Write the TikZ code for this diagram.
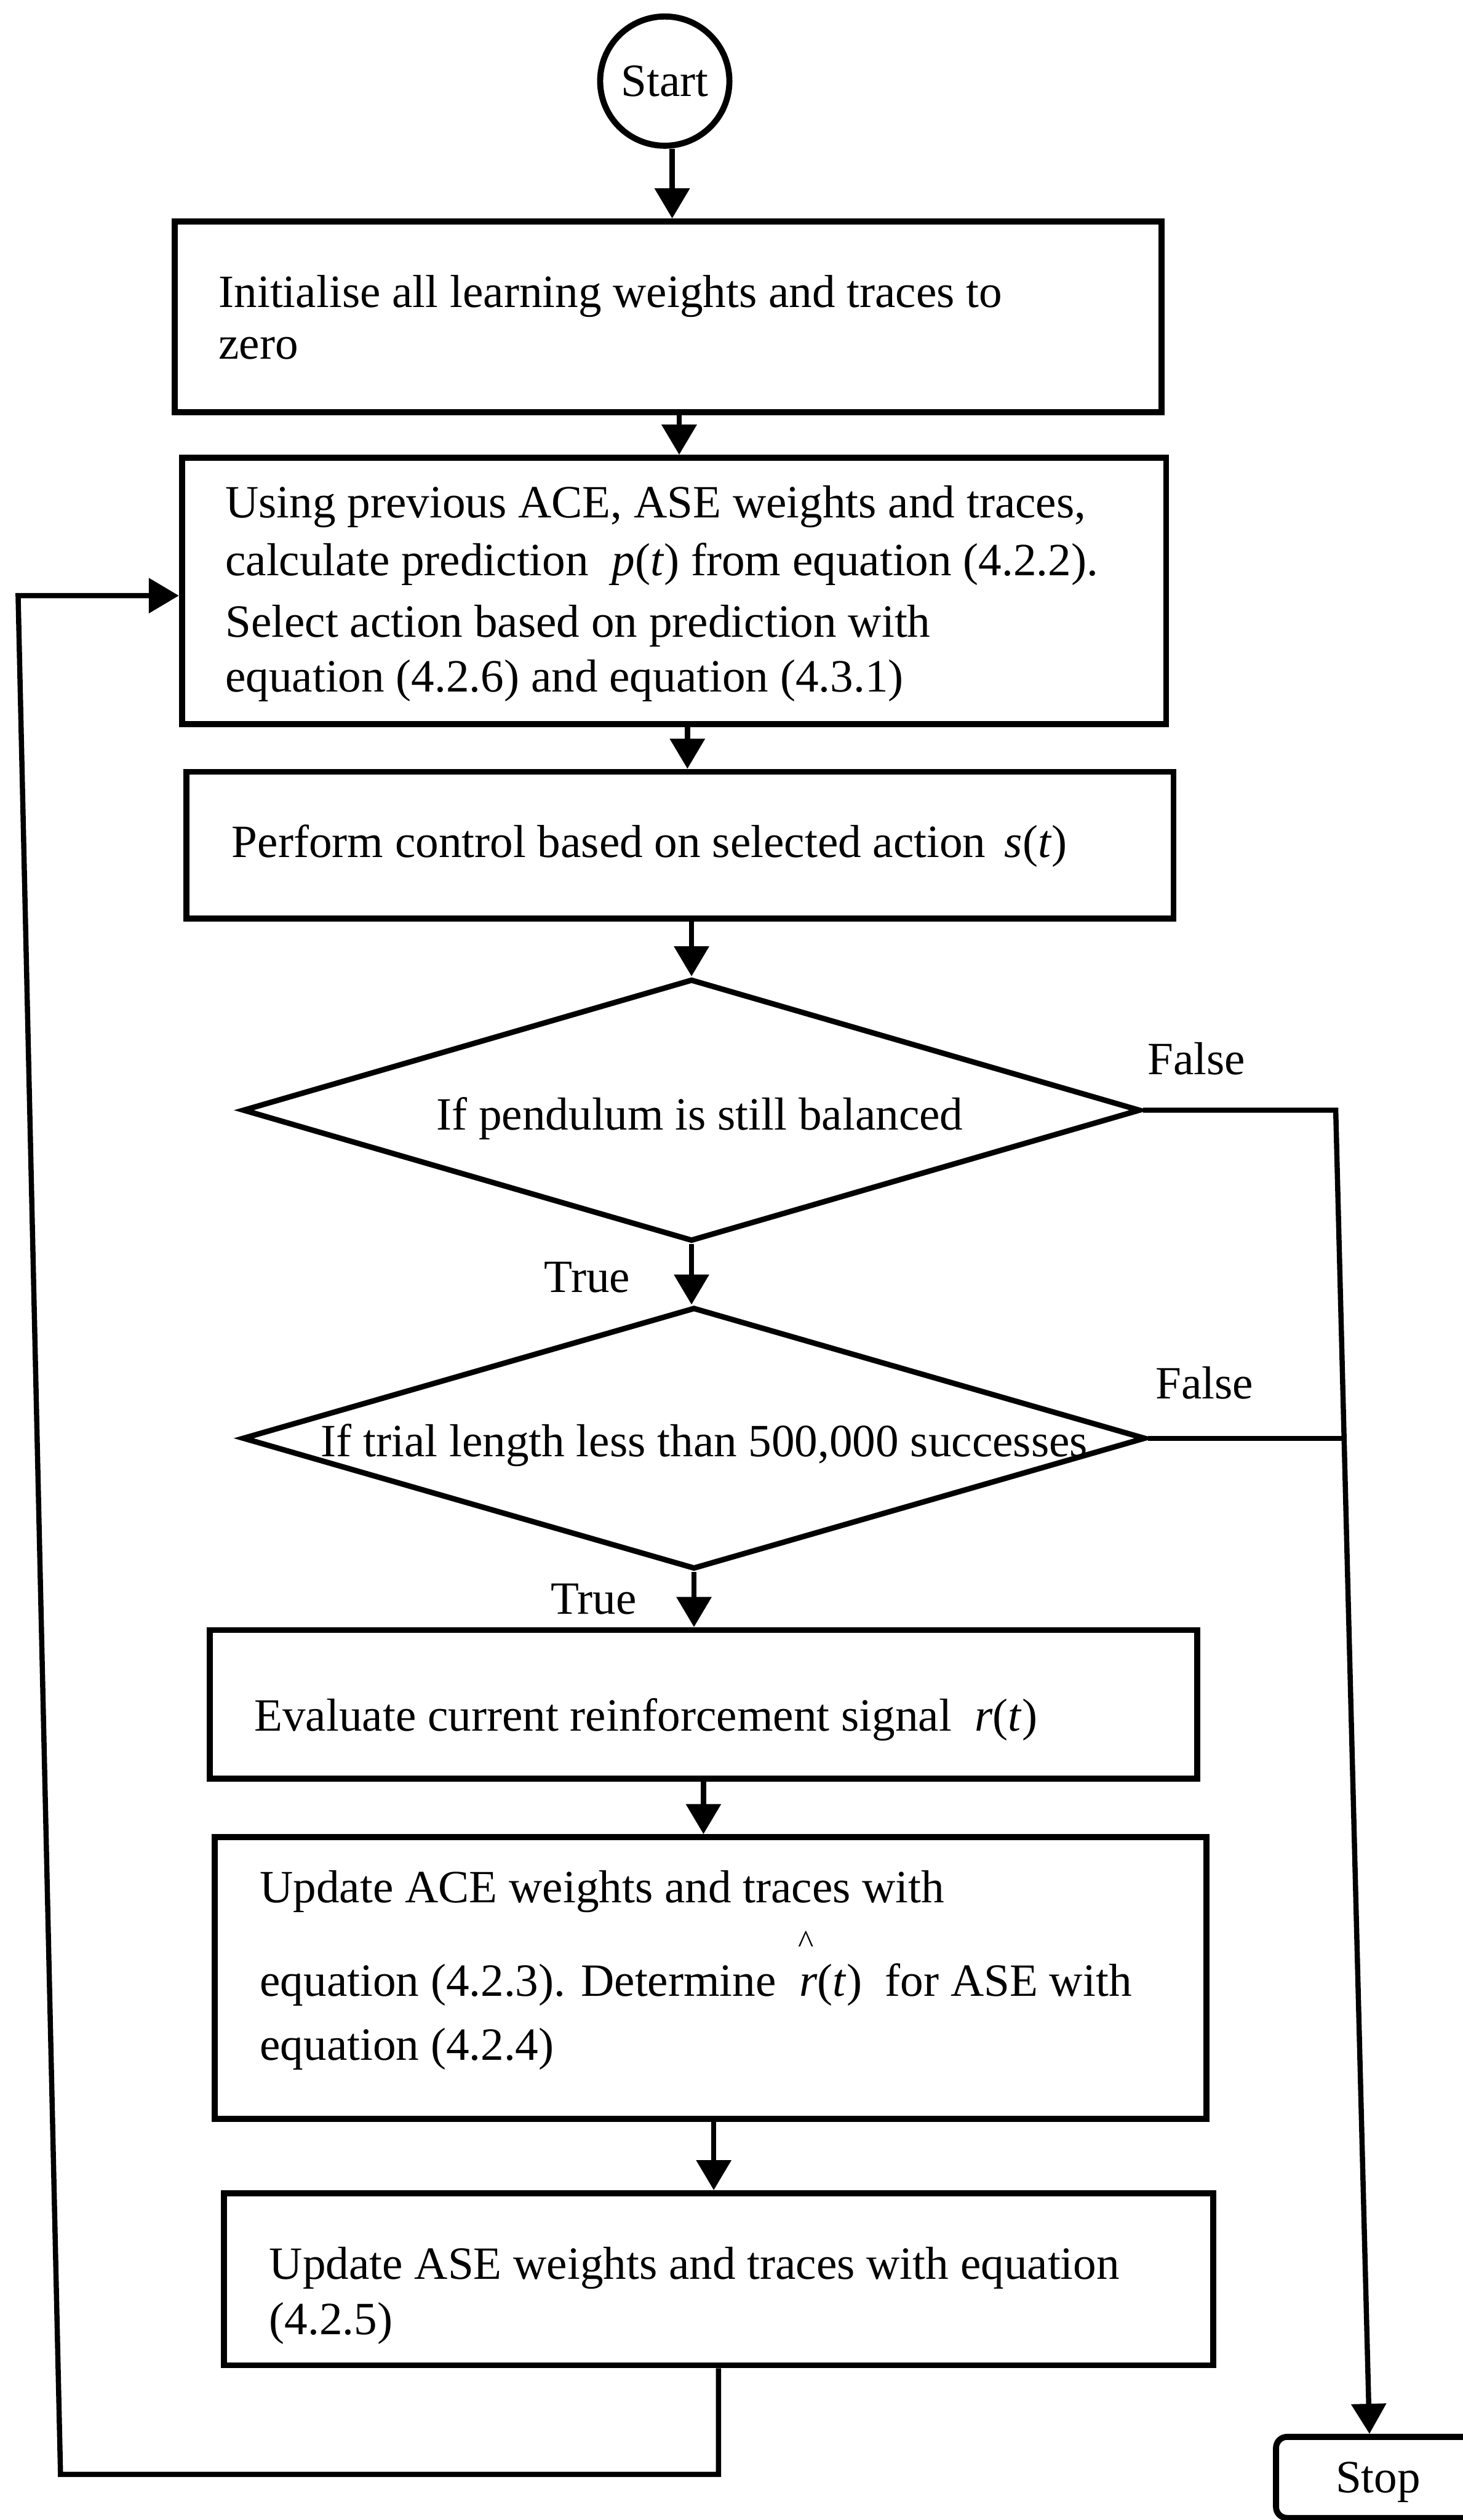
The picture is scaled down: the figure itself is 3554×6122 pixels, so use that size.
\documentclass[tikz,border=0pt]{standalone}
\usepackage{fontspec}
\setmainfont{Liberation Serif}
\usetikzlibrary{arrows.meta,shapes.geometric}
% one drawing unit = 0.005cm
\newcommand\pxu{0.005cm}
% r with a raised hat, as printed in the update box
\newcommand\rhatted{\makebox[0pt][l]{\hspace{-0.4pt}\raisebox{15pt}{\fontsize{11.5}{11.5}\selectfont\textasciicircum}}\textit{r}}
\begin{document}
\begin{tikzpicture}[x=\pxu, y=-\pxu,
  every node/.style={font=\fontsize{16}{19}\selectfont},
  box/.style={draw, rectangle, line width=2.1pt, inner sep=0pt},
  dec/.style={draw, diamond, line width=1.9pt, inner sep=0pt},
  txt/.style={inner sep=0pt, anchor=base west},
  lbl/.style={inner sep=0pt, anchor=base west},
  con/.style={line width=1.8pt},
  arr/.style={line width=1.8pt, -{Triangle[length=10.4pt,width=11.8pt]}},
]
\useasboundingbox (0,0) rectangle (3554,6122);

% terminals
\node[draw, circle, line width=2.1pt, minimum size=314*\pxu, inner sep=0pt] (start) at (1615,197) {Start};
\node[box, rounded corners=3.8pt, minimum width=496*\pxu, minimum height=197*\pxu, text depth=0pt] (stop) at (3348,6018.5) {Stop};

% process boxes
\node[box, minimum width=2398*\pxu, minimum height=464*\pxu] (b1) at (1623,770) {};
\node[box, minimum width=2391*\pxu, minimum height=647*\pxu] (b2) at (1637.5,1435.5) {};
\node[box, minimum width=2398*\pxu, minimum height=357*\pxu] (b3) at (1652,2053.5) {};
\node[box, minimum width=2398*\pxu, minimum height=361*\pxu] (b4) at (1709,4140.5) {};
\node[box, minimum width=2410*\pxu, minimum height=684*\pxu] (b5) at (1726,4805) {};
\node[box, minimum width=2403*\pxu, minimum height=418*\pxu] (b6) at (1745.5,5537) {};

% decisions
\node[dec, minimum width=2181*\pxu, minimum height=637*\pxu] (d1) at (1680,2697) {};
\node[dec, minimum width=2194*\pxu, minimum height=636*\pxu] (d2) at (1686,3494) {};

% box texts (anchored at the baseline of the first line)
\node[txt] (t1) at (530,747) {\vtop{\baselineskip=17.8pt
  \hbox{Initialise all learning weights and traces to}
  \hbox{zero}}};
\node[txt] (t2) at (546,1257.5) {\vtop{\baselineskip=20.1pt
  \hbox{Using previous ACE, ASE weights and traces,}
  \hbox{calculate prediction\hspace{8pt}\textit{p}(\textit{t}) from equation (4.2.2).}
  \baselineskip=21.2pt
  \hbox{Select action based on prediction with}
  \baselineskip=18.9pt
  \hbox{equation (4.2.6) and equation (4.3.1)}}};
\node[txt] (t3) at (562,2082.5) {Perform control based on selected action\hspace{6.5pt}\textit{s}(\textit{t})};
\node[inner sep=0pt, anchor=base] (dt1) at (1700,2744.5) {If pendulum is still balanced};
\node[txt] (dt2) at (778,3538) {If trial length less than 500,000 successes};
\node[txt] (t4) at (616.5,4204.7) {Evaluate current reinforcement signal\hspace{8pt}\textit{r}(\textit{t})};
\node[txt] (t5) at (630,4622.7) {\vtop{\baselineskip=32.3pt
  \hbox{Update ACE weights and traces with}
  \hbox{equation (4.2.3). Determine\hspace{8pt}\rhatted(\textit{t})\hspace{8pt}for ASE with}
  \baselineskip=22.2pt
  \hbox{equation (4.2.4)}}};
\node[txt] (t6) at (653,5536.7) {\vtop{\baselineskip=19.06pt
  \hbox{Update ASE weights and traces with equation}
  \hbox{(4.2.5)}}};

% branch labels
\node[lbl] (f1) at (2787,2611) {False};
\node[lbl] (f2) at (2806,3398) {False};
\node[lbl] (tr1) at (1321,3140) {True};
\node[lbl] (tr2) at (1337,3921) {True};

% main flow
\draw[arr] ([xshift=18*\pxu]start.south) -- ([xshift=18*\pxu]start.south |- b1.north);
\draw[arr] ([xshift=27*\pxu]b1.south) -- ([xshift=27*\pxu]b1.south |- b2.north);
\draw[arr] ([xshift=32.5*\pxu]b2.south) -- ([xshift=32.5*\pxu]b2.south |- b3.north);
\draw[arr] (d1.north |- b3.south) -- (d1.north);
\draw[arr] (d1.south) -- (d1.south |- d2.north);
\draw[arr] (d2.south) -- (d2.south |- b4.north);
\draw[arr] (b4.south) -- (b4.south |- b5.north);
\draw[arr] ([xshift=8*\pxu]b5.south) -- ([xshift=8*\pxu]b5.south |- b6.north);

% loop back to the prediction step
\coordinate (lb) at (147,6011);
\coordinate (lt) at (44,1447);
\draw[arr] (b6.south) -- (b6.south |- lb) -- (lb) -- (lt) -- (lt -| b2.west);

% false branches to Stop
\coordinate (fc) at (3245,2697);
\coordinate (fj) at (3265,3494);
\draw[arr] (d1.east) -- (fc) -- ([xshift=-21*\pxu]stop.north);
\draw[con] (d2.east) -- (fj);
\end{tikzpicture}
\end{document}
